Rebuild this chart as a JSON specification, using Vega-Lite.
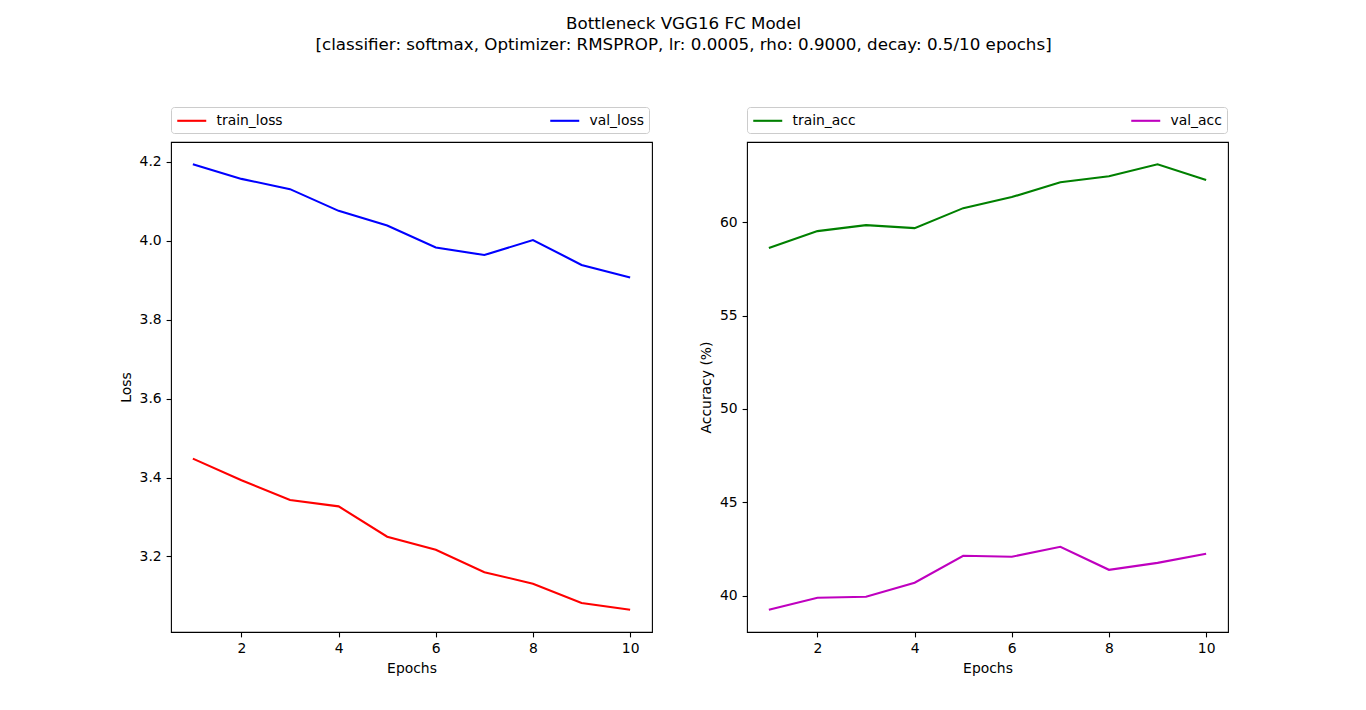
{
  "$schema": "https://vega.github.io/schema/vega-lite/v6.json",
  "background": "white",
  "padding": {"left": 118, "top": 16, "right": 10, "bottom": 10},
  "title": {
    "text": ["Bottleneck VGG16 FC Model", "[classifier: softmax, Optimizer: RMSPROP, lr: 0.0005, rho: 0.9000, decay: 0.5/10 epochs]"],
    "anchor": "middle",
    "font": "DejaVu Sans",
    "fontSize": 16.7,
    "fontWeight": "normal",
    "color": "black",
    "lineHeight": 21,
    "offset": 52,
    "dx": 10
  },
  "config": {
    "font": "DejaVu Sans",
    "view": {"stroke": "black", "strokeWidth": 1.1},
    "axis": {
      "grid": false,
      "domain": false,
      "tickColor": "black",
      "tickSize": 4.9,
      "tickWidth": 1.1,
      "labelFont": "DejaVu Sans",
      "labelFontSize": 13.9,
      "labelColor": "black",
      "labelPadding": 4.9,
      "titleFont": "DejaVu Sans",
      "titleFontSize": 13.9,
      "titleFontWeight": "normal",
      "titleColor": "black"
    },
    "legend": {
      "orient": "none",
      "legendX": 0,
      "legendY": -35,
      "direction": "horizontal",
      "columns": 2,
      "symbolType": "M-1,0H3",
      "symbolSize": 210,
      "symbolStrokeWidth": 2.1,
      "labelFont": "DejaVu Sans",
      "labelFontSize": 13.9,
      "labelColor": "black",
      "labelOffset": 23.5,
      "padding": 5,
      "strokeColor": "#cccccc",
      "fillColor": "white",
      "cornerRadius": 3,
      "title": null
    }
  },
  "datasets": {
    "loss": [
      {"epoch": 1, "series": "train_loss", "value": 3.448},
      {"epoch": 2, "series": "train_loss", "value": 3.393},
      {"epoch": 3, "series": "train_loss", "value": 3.343},
      {"epoch": 4, "series": "train_loss", "value": 3.327},
      {"epoch": 5, "series": "train_loss", "value": 3.250},
      {"epoch": 6, "series": "train_loss", "value": 3.217},
      {"epoch": 7, "series": "train_loss", "value": 3.160},
      {"epoch": 8, "series": "train_loss", "value": 3.131},
      {"epoch": 9, "series": "train_loss", "value": 3.082},
      {"epoch": 10, "series": "train_loss", "value": 3.065},
      {"epoch": 1, "series": "val_loss", "value": 4.194},
      {"epoch": 2, "series": "val_loss", "value": 4.157},
      {"epoch": 3, "series": "val_loss", "value": 4.131},
      {"epoch": 4, "series": "val_loss", "value": 4.076},
      {"epoch": 5, "series": "val_loss", "value": 4.039},
      {"epoch": 6, "series": "val_loss", "value": 3.983},
      {"epoch": 7, "series": "val_loss", "value": 3.964},
      {"epoch": 8, "series": "val_loss", "value": 4.002},
      {"epoch": 9, "series": "val_loss", "value": 3.939},
      {"epoch": 10, "series": "val_loss", "value": 3.907}
    ],
    "acc": [
      {"epoch": 1, "series": "train_acc", "value": 58.61},
      {"epoch": 2, "series": "train_acc", "value": 59.52},
      {"epoch": 3, "series": "train_acc", "value": 59.84},
      {"epoch": 4, "series": "train_acc", "value": 59.68},
      {"epoch": 5, "series": "train_acc", "value": 60.75},
      {"epoch": 6, "series": "train_acc", "value": 61.34},
      {"epoch": 7, "series": "train_acc", "value": 62.14},
      {"epoch": 8, "series": "train_acc", "value": 62.46},
      {"epoch": 9, "series": "train_acc", "value": 63.10},
      {"epoch": 10, "series": "train_acc", "value": 62.25},
      {"epoch": 1, "series": "val_acc", "value": 39.25},
      {"epoch": 2, "series": "val_acc", "value": 39.89},
      {"epoch": 3, "series": "val_acc", "value": 39.95},
      {"epoch": 4, "series": "val_acc", "value": 40.70},
      {"epoch": 5, "series": "val_acc", "value": 42.14},
      {"epoch": 6, "series": "val_acc", "value": 42.09},
      {"epoch": 7, "series": "val_acc", "value": 42.62},
      {"epoch": 8, "series": "val_acc", "value": 41.39},
      {"epoch": 9, "series": "val_acc", "value": 41.76},
      {"epoch": 10, "series": "val_acc", "value": 42.25}
    ]
  },
  "resolve": {"scale": {"color": "independent"}, "legend": {"color": "independent"}},
  "spacing": 45,
  "hconcat": [
    {
      "width": 481,
      "height": 490,
      "data": {"name": "loss"},
      "mark": {"type": "line", "strokeWidth": 2.1, "clip": true},
      "encoding": {
        "x": {"field": "epoch", "type": "quantitative", "title": "Epochs",
              "scale": {"domain": [0.55, 10.45], "nice": false, "zero": false},
              "axis": {"values": [2, 4, 6, 8, 10], "titlePadding": 6}},
        "y": {"field": "value", "type": "quantitative", "title": "Loss",
              "scale": {"domain": [3.0085, 4.2505], "nice": false, "zero": false},
              "axis": {"values": [3.2, 3.4, 3.6, 3.8, 4.0, 4.2], "format": ".1f", "titlePadding": 6}},
        "color": {"field": "series", "type": "nominal",
                  "scale": {"domain": ["train_loss", "val_loss"], "range": ["#ff0000", "#0000ff"]},
                  "legend": {"columnPadding": 263}}
      }
    },
    {
      "width": 481,
      "height": 490,
      "data": {"name": "acc"},
      "mark": {"type": "line", "strokeWidth": 2.1, "clip": true},
      "encoding": {
        "x": {"field": "epoch", "type": "quantitative", "title": "Epochs",
              "scale": {"domain": [0.55, 10.45], "nice": false, "zero": false},
              "axis": {"values": [2, 4, 6, 8, 10], "titlePadding": 6}},
        "y": {"field": "value", "type": "quantitative", "title": "Accuracy (%)",
              "scale": {"domain": [38.06, 64.29], "nice": false, "zero": false},
              "axis": {"values": [40, 45, 50, 55, 60], "format": "d", "titlePadding": 6}},
        "color": {"field": "series", "type": "nominal",
                  "scale": {"domain": ["train_acc", "val_acc"], "range": ["#008000", "#bf00bf"]},
                  "legend": {"columnPadding": 271}}
      }
    }
  ]
}
